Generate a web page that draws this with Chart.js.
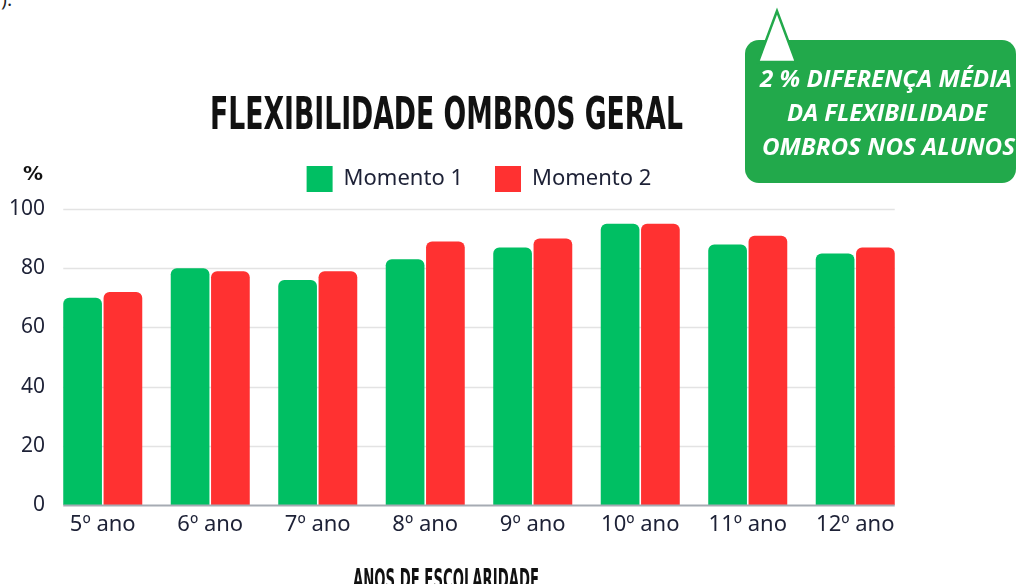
<!DOCTYPE html>
<html>
<head>
<meta charset="utf-8">
<script src="https://cdn.jsdelivr.net/npm/chart.js@4"></script>
<style>
  body { margin: 0; background: #fff; overflow: hidden; }
  #wrap { position: relative; width: 1017px; height: 584px; overflow: hidden; }
  #chart { position: absolute; left: 0; top: 0; }
  .txt { position: absolute; white-space: nowrap; display: inline-block; transform-origin: 0 0; }
  .cond { font-family: "DejaVu Sans Condensed", "DejaVu Sans"; font-weight: bold; color: #111; }
  .call { font-family: "Open Sans"; font-weight: 700; font-style: italic; font-size: 24px; line-height: 24px; color: #fff; }
</style>
</head>
<body>
<div id="wrap">
  <span class="txt call" style="left:1px; top:-13px; color:#222; font-style:normal; font-weight:400; font-size:20px;">).</span>
  <canvas id="chart" width="1017" height="584"></canvas>
  <span class="txt cond" data-w="473" style="left:210px; top:91px; font-size:45px; line-height:45px;">FLEXIBILIDADE OMBROS GERAL</span>
  <span class="txt cond" data-w="20" style="left:23px; top:163px; font-size:20px; line-height:20px; font-family:'DejaVu Sans';">%</span>
  <span class="txt cond" data-w="186" style="left:353px; top:566px; font-size:28px; line-height:28px;">ANOS DE ESCOLARIDADE</span>
  <div style="position:absolute; left:745px; top:40px; width:271px; height:143px; border-radius:14px; background:#22a94b;"></div>
  <svg style="position:absolute; left:0; top:0;" width="1017" height="584">
    <polygon points="777,11 758,62 796,62" fill="#fff" stroke="#22a94b" stroke-width="2.5" stroke-linejoin="miter"/>
  </svg>
  <span class="txt call" data-w="252" style="left:760px; top:66px;">2 % DIFERENÇA MÉDIA</span>
  <span class="txt call" data-w="200" style="left:787px; top:100px;">DA FLEXIBILIDADE</span>
  <span class="txt call" data-w="253" style="left:762px; top:134px;">OMBROS NOS ALUNOS</span>
</div>
<script>
// dados
const anos = ["5º ano", "6º ano", "7º ano", "8º ano", "9º ano", "10º ano", "11º ano", "12º ano"];
const momento1 = [70, 80, 76, 83, 87, 95, 88, 85];
const momento2 = [72, 79, 79, 89, 90, 95, 91, 87];
const yTicks = [0, 20, 40, 60, 80, 100];

const corTexto = "#1d2136";
const fonte = "Noto Sans";

// linhas de grade só entre a primeira e a última barra
const gradeCurta = {
  id: "gradeCurta",
  beforeDatasetsDraw(chart) {
    desenhaLinhas(chart, false);
  },
  afterDatasetsDraw(chart) {
    desenhaLinhas(chart, true);
  },
};

function desenhaLinhas(chart, base) {
  const { ctx, scales: { y } } = chart;
  const primeira = chart.getDatasetMeta(0).data[0];
  const ultMeta = chart.getDatasetMeta(chart.data.datasets.length - 1).data;
  const ultima = ultMeta[ultMeta.length - 1];
  const x0 = primeira.x - primeira.width / 2;
  const x1 = ultima.x + ultima.width / 2;
  ctx.save();
  y.ticks.forEach((t) => {
    if ((t.value === 0) !== base) return;
    const py = Math.round(y.getPixelForValue(t.value)) + 0.5;
    ctx.strokeStyle = base ? "#a6abb3" : "#e3e3e3";
    ctx.lineWidth = base ? 2 : 1.5;
    ctx.beginPath();
    ctx.moveTo(x0, py);
    ctx.lineTo(x1, py);
    ctx.stroke();
  });
  ctx.restore();
}

new Chart(document.getElementById("chart").getContext("2d"), {
  type: "bar",
  data: {
    labels: anos,
    datasets: [
      { label: "Momento 1", data: momento1, backgroundColor: "#00bf63" },
      { label: "Momento 2", data: momento2, backgroundColor: "#ff3131" },
    ],
  },
  options: {
    responsive: false,
    animation: false,
    categoryPercentage: 0.75,
    barPercentage: 0.96,
    borderRadius: 6,
    layout: { padding: { top: 134, right: 108, bottom: 39, left: 0 } },
    plugins: {
      tooltip: { enabled: false },
      legend: {
        position: "top",
        fullSize: false,
        labels: {
          boxWidth: 26,
          boxHeight: 26,
          padding: 32,
          color: corTexto,
          font: { family: fonte, size: 22 },
        },
      },
      // espaço entre legenda e gráfico
      subtitle: {
        display: true,
        text: "",
        weight: 500,
        padding: 0,
        font: { size: 7, lineHeight: 1 },
      },
    },
    scales: {
      x: {
        grid: { display: false, drawTicks: false },
        border: { display: false },
        ticks: { color: corTexto, padding: 7, font: { family: fonte, size: 22 } },
        afterFit(s) { s.height = 40; },
      },
      y: {
        min: 0,
        max: 100,
        grid: { display: false, drawTicks: false },
        border: { display: false },
        ticks: { color: corTexto, padding: 4, font: { family: fonte, size: 21 } },
        afterBuildTicks(s) { s.ticks = yTicks.map((v) => ({ value: v })); },
        afterFit(s) { s.width = 49; },
      },
    },
  },
  plugins: [gradeCurta],
});

// ajusta a largura dos textos
document.querySelectorAll("[data-w]").forEach((el) => {
  const w = el.getBoundingClientRect().width;
  el.style.transform = "scaleX(" + el.dataset.w / w + ")";
});
</script>
</body>
</html>
